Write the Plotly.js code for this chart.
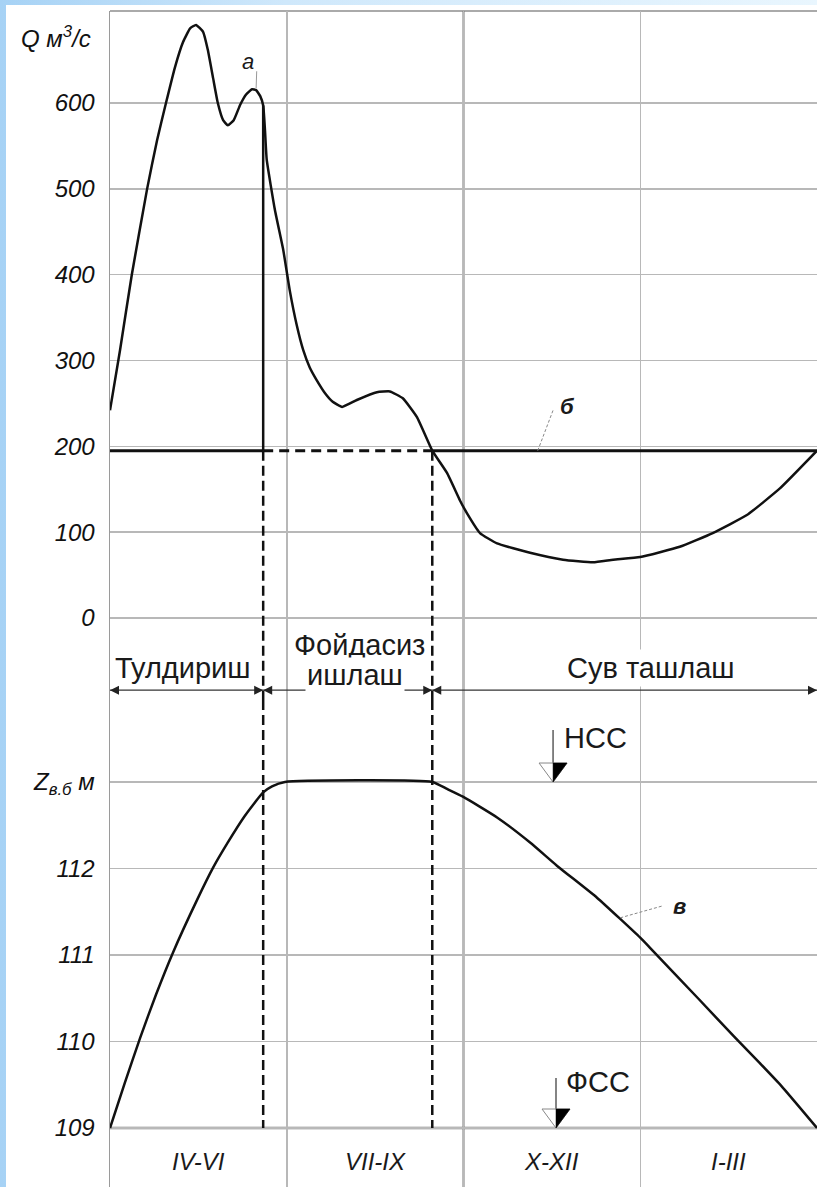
<!DOCTYPE html>
<html><head><meta charset="utf-8">
<script src="https://cdn.plot.ly/plotly-3.0.1.min.js"></script>
<style>
html,body{margin:0;padding:0;background:#fff;}
#wrap{position:relative;width:817px;height:1187px;overflow:hidden;background:linear-gradient(90deg,#a6d2f5 0%,#cfe8fb 35%,#e9f6fe 100%);}
#sheet{position:absolute;left:6px;top:5px;right:0;bottom:0;background:#fff;}
#chart{position:absolute;left:0;top:0;width:817px;height:1187px;}
</style></head><body>
<div id="wrap"><div id="sheet"></div><div id="chart"></div></div>
<script>
// ---- data (months from April = 0 to March end = 12) ----
const monthsQ = [0,0.17,0.37,0.63,0.80,0.95,1.10,1.24,1.36,1.46,1.58,1.66,1.75,1.83,1.92,2.00,2.10,2.21,2.31,2.41,2.48,2.55,2.60,2.63,2.66,2.80,2.94,3.05,3.17,3.28,3.39,3.51,3.65,3.78,3.94,4.19,4.53,4.75,4.97,5.21,5.47,5.72,5.94,6.06,6.28,6.57,7.13,7.69,8.20,8.54,9.00,9.67,10.23,10.81,11.37,12.00];
const flowQ = [242,312,400,500,557,600,641,671,687,691,683,662,629,600,580,574,580,598,610,616,615,608,597,569,534,475,429,382,341,312,292,277,262,252,246,254,263,264,256,234,195,169,137,122,99,87,76,68,65,68,71,83,99,120,151,195];
const monthsZ = [0,0.25,0.51,0.78,1.07,1.48,1.75,1.99,2.29,2.60,2.75,2.97,5.47,5.72,5.99,6.57,7.13,7.59,8.27,9.00,9.17,9.98,10.59,11.03,11.39,12.00];
const levelZ = [109.00,109.52,110.04,110.54,111.03,111.64,112.01,112.29,112.61,112.88,112.95,113.00,113.00,112.92,112.83,112.59,112.30,112.03,111.66,111.20,111.08,110.50,110.06,109.75,109.49,109.00];
const guaranteedQ = 195;
const phaseBounds = [0, 2.6, 5.47, 12];
const phaseNames = ['Тулдириш', 'Фойдасиз', 'ишлаш', 'Сув ташлаш'];
const quarterLabels = ['IV-VI', 'VII-IX', 'X-XII', 'I-III'];
const quarterCenters = [1.5, 4.5, 7.5, 10.5];
const qTicks = [0, 100, 200, 300, 400, 500, 600];
const zTicks = [109, 110, 111, 112, 113];
const zTickText = ['109', '110', '111', '112', '<i>Z</i><sub>в.б</sub> м'];
const levelNames = ['НСС', 'ФСС'];
const levelValues = [113, 109];
const curveLabels = ['а', 'б', 'в'];

// ---- geometry / style ----
const qRange = [-95.5, 707.2];
const zRange = [108.318, 113.948];
const split = 0.4141;
const arrowRow = -84;   // Q-axis position of the phase arrow row
const ink = '#111';
const grid = '#b8b8b8';
const dark = '#7a7a7a';
const FONT = 'Liberation Sans, Arial, sans-serif';
const fillEndQ = flowQ[monthsQ.indexOf(phaseBounds[1])];

const traces = [];
function line(x, y, ax, w, dash) {
  traces.push({type:'scatter', mode:'lines', x:x, y:y, yaxis:ax, hoverinfo:'skip',
    line:{color:ink, width:w, dash:dash || 'solid'}});
}
// discharge hydrograph
traces.push({type:'scatter', mode:'lines', x:monthsQ, y:flowQ, yaxis:'y', hoverinfo:'skip',
  line:{color:ink, width:2.5, shape:'spline', smoothing:0.4}});
// guaranteed discharge line (б)
line([phaseBounds[0], phaseBounds[1]], [guaranteedQ, guaranteedQ], 'y', 3);
line([phaseBounds[1], phaseBounds[2]], [guaranteedQ, guaranteedQ], 'y', 3, '10px,6px');
line([phaseBounds[2], phaseBounds[3]], [guaranteedQ, guaranteedQ], 'y', 3);
// end of filling vertical
line([phaseBounds[1], phaseBounds[1]], [guaranteedQ, fillEndQ], 'y', 2.5);
// dashed phase boundaries
[phaseBounds[1], phaseBounds[2]].forEach(b => {
  line([b, b], [guaranteedQ, qRange[0]], 'y', 2.5, '10px,5px');
  line([b, b], [zRange[1], levelValues[1]], 'y2', 2.5, '10px,5px');
});
// phase arrows row
traces.push({type:'scatter', mode:'lines', x:[phaseBounds[0], phaseBounds[3]], y:[arrowRow, arrowRow],
  yaxis:'y', hoverinfo:'skip', line:{color:'#333', width:1.4}});
traces.push({type:'scatter', mode:'markers', x:phaseBounds.slice(1), y:phaseBounds.slice(1).map(() => arrowRow),
  yaxis:'y', hoverinfo:'skip', cliponaxis:false, marker:{symbol:'arrow-right', size:9, color:'#222'}});
traces.push({type:'scatter', mode:'markers', x:phaseBounds.slice(0, 3), y:phaseBounds.slice(0, 3).map(() => arrowRow),
  yaxis:'y', hoverinfo:'skip', cliponaxis:false, marker:{symbol:'arrow-left', size:9, color:'#222'}});
// reservoir level curve
traces.push({type:'scatter', mode:'lines', x:monthsZ, y:levelZ, yaxis:'y2', hoverinfo:'skip',
  line:{color:ink, width:2.5, shape:'spline', smoothing:0.5}});

const tickFont = {family:FONT, size:24, style:'italic', color:'#111'};
const axisCommon = {showgrid:true, gridcolor:grid, gridwidth:1.5, zeroline:false,
  showline:true, linecolor:'#9a9a9a', linewidth:1.5, ticks:'outside', ticklen:9,
  tickcolor:'rgba(0,0,0,0)', tickfont:tickFont, anchor:'x', fixedrange:true};

const shapes = [];
// top frame
shapes.push({type:'line', xref:'paper', yref:'paper', x0:0, x1:1, y0:1, y1:1, line:{color:'#aaa', width:2}, layer:'below'});
// darker grid lines
shapes.push({type:'line', xref:'x', yref:'paper', x0:6, x1:6, y0:0, y1:1, line:{color:dark, width:2}, layer:'below'});
shapes.push({type:'line', xref:'paper', yref:'y', x0:0, x1:1, y0:qTicks[6], y1:qTicks[6], line:{color:dark, width:2}, layer:'below'});
shapes.push({type:'line', xref:'paper', yref:'y2', x0:0, x1:1, y0:zTicks[2], y1:zTicks[2], line:{color:dark, width:2}, layer:'below'});
shapes.push({type:'line', xref:'paper', yref:'y2', x0:0, x1:1, y0:zTicks[0], y1:zTicks[0], line:{color:dark, width:2.5}, layer:'below'});
// level markers НСС / ФСС
const markX = [7.52, 7.57];
const stemLen = [52, 50];
levelValues.forEach((v, i) => {
  const base = {xref:'x', yref:'y2', xsizemode:'pixel', ysizemode:'pixel', xanchor:markX[i], yanchor:v, type:'path'};
  shapes.push(Object.assign({}, base, {path:'M 0 0 L 0 ' + stemLen[i], line:{color:'#333', width:1.2}}));
  shapes.push(Object.assign({}, base, {path:'M -14 19 L 14 19 L 0 0 Z', fillcolor:'#fff', line:{color:'#888', width:1}}));
  shapes.push(Object.assign({}, base, {path:'M 0 0 L 0 19 L 14 19 Z', fillcolor:'#000', line:{color:'#000', width:0.5}}));
});
// leader lines for curve labels
shapes.push({type:'line', xref:'x', yref:'y', x0:2.48, x1:2.49, y0:617, y1:637, line:{color:'#999', width:1}});
shapes.push({type:'line', xref:'x', yref:'y', x0:7.26, x1:7.52, y0:guaranteedQ, y1:242, line:{color:'#888', width:1, dash:'3px,2px'}});
shapes.push({type:'line', xref:'x', yref:'y2', x0:8.66, x1:9.39, y0:111.43, y1:111.57, line:{color:'#888', width:1, dash:'3px,2px'}});

const annotations = [];
const txt = (o) => annotations.push(Object.assign({showarrow:false, font:{family:FONT, size:29, color:'#1a1a1a'}}, o));
// axis titles
txt({xref:'paper', yref:'paper', x:-0.024, y:0.978, xanchor:'right', yanchor:'middle',
  text:'Q м<sup>3</sup>/с', font:{family:FONT, size:24, style:'italic', color:'#111'}});
// phase names
txt({xref:'x', yref:'paper', x:1.24, y:0.4413, text:phaseNames[0], bgcolor:'#fff', borderpad:1});
txt({xref:'x', yref:'paper', x:4.23, y:0.4609, text:phaseNames[1], bgcolor:'#fff', borderpad:1});
txt({xref:'x', yref:'paper', x:4.16, y:0.4354, text:phaseNames[2], bgcolor:'#fff', borderpad:1});
txt({xref:'x', yref:'paper', x:9.18, y:0.4413, text:phaseNames[3], bgcolor:'#fff', borderpad:2});
// level names
txt({xref:'x', yref:'y2', x:7.67, y:113.51, xanchor:'left', text:levelNames[0]});
txt({xref:'x', yref:'y2', x:7.69, y:109.53, xanchor:'left', text:levelNames[1], bgcolor:'#fff', borderpad:2});
// quarter labels
quarterLabels.forEach((q, i) => txt({xref:'x', yref:'y2', x:quarterCenters[i], y:108.607, text:q,
  font:{family:FONT, size:24, style:'italic', color:'#1a1a1a'}}));
// curve labels
const lblFont = {family:FONT, size:22, style:'italic', color:'#1a1a1a'};
txt({xref:'x', yref:'y', x:2.34, y:648, text:curveLabels[0], font:lblFont});
txt({xref:'x', yref:'y', x:7.76, y:246, text:curveLabels[1], font:Object.assign({}, lblFont, {weight:'bold'})});
txt({xref:'x', yref:'y2', x:9.67, y:111.56, text:curveLabels[2], font:Object.assign({}, lblFont, {weight:'bold'})});

const layout = {
  width:817, height:1187, margin:{l:110, r:0, t:11, b:0},
  paper_bgcolor:'rgba(0,0,0,0)', plot_bgcolor:'rgba(0,0,0,0)', showlegend:false,
  xaxis:{range:[0,12], tickvals:[0,3,6,9,12], showticklabels:false, ticks:'', showgrid:true,
    gridcolor:grid, gridwidth:1.5, zeroline:false, showline:false, anchor:'y2', fixedrange:true},
  yaxis:Object.assign({}, axisCommon, {domain:[split,1], range:qRange, tickvals:qTicks}),
  yaxis2:Object.assign({}, axisCommon, {domain:[0,split], range:zRange, tickvals:zTicks, ticktext:zTickText}),
  shapes:shapes, annotations:annotations
};
Plotly.newPlot('chart', traces, layout, {staticPlot:true}).then(gd => {
  // drop empty placeholder title nodes that Plotly leaves in the SVG
  gd.querySelectorAll('text').forEach(t => { if (!t.textContent.trim()) t.remove(); });
});
</script></body></html>
